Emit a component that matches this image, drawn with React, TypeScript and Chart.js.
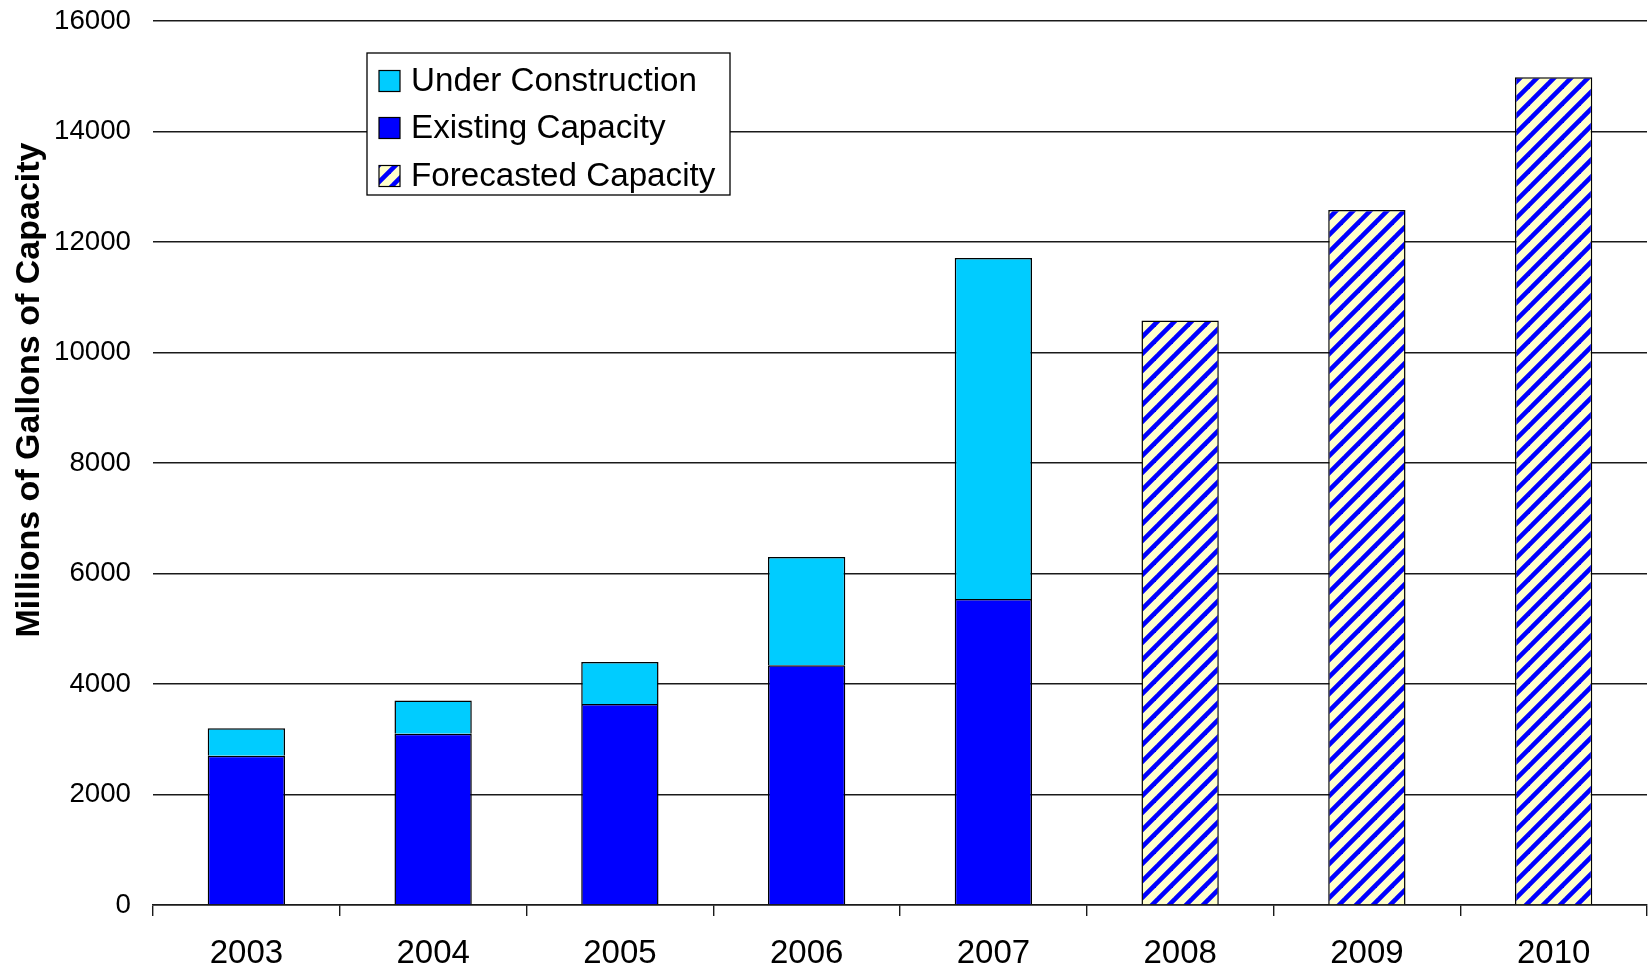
import React, { useEffect, useRef } from "react";
import { Chart, registerables } from "chart.js";

Chart.register(...registerables);

// Ethanol production capacity by year (millions of gallons)
const years = ["2003", "2004", "2005", "2006", "2007", "2008", "2009", "2010"];
const existingCapacity = [2700, 3100, 3640, 4340, 5540, null, null, null];
const underConstruction = [500, 600, 760, 1960, 6170, null, null, null];
const forecastedCapacity = [null, null, null, null, null, 10580, 12580, 14980];
const yTicks = [0, 2000, 4000, 6000, 8000, 10000, 12000, 14000, 16000];
const yAxisTitle = "Millions of Gallons of Capacity";
const seriesNames = ["Existing Capacity", "Under Construction", "Forecasted Capacity"];
// legend lists the series top-down as: Under Construction, Existing, Forecasted
const legendOrder = [1, 0, 2];

const FONT = "'Liberation Sans', Arial, Helvetica, sans-serif";

function makeStripePattern(): CanvasPattern | string {
  const size = 17;
  const tile = document.createElement("canvas");
  tile.width = size;
  tile.height = size;
  const g = tile.getContext("2d");
  if (!g) return "#FFFFCC";
  g.fillStyle = "#FFFFCC";
  g.fillRect(0, 0, size, size);
  g.strokeStyle = "#0000FF";
  g.lineWidth = 4.6;
  for (const c of [0, size, 2 * size]) {
    g.beginPath();
    g.moveTo(c + 3, -3);
    g.lineTo(c - size - 3, size + 3);
    g.stroke();
  }
  const p = g.createPattern(tile, "repeat");
  return p || "#FFFFCC";
}

const overlayPlugin = {
  id: "overlay",
  afterDraw(chart: any) {
    const ctx: CanvasRenderingContext2D = chart.ctx;
    ctx.save();

    // rotated axis title
    ctx.translate(39, 390);
    ctx.rotate(-Math.PI / 2);
    ctx.font = `bold 34px ${FONT}`;
    ctx.fillStyle = "#000";
    ctx.textAlign = "center";
    ctx.textBaseline = "alphabetic";
    ctx.fillText(yAxisTitle, 0, 0);
    ctx.restore();

    // legend box
    ctx.save();
    const bx = 367, by = 53, bw = 363, bh = 142;
    ctx.fillStyle = "#fff";
    ctx.fillRect(bx, by, bw, bh);
    ctx.strokeStyle = "#000";
    ctx.lineWidth = 1.3;
    ctx.strokeRect(bx, by, bw, bh);
    const rows = [81, 128, 176];
    ctx.font = `33.2px ${FONT}`;
    ctx.textAlign = "left";
    ctx.textBaseline = "middle";
    legendOrder.forEach((di, i) => {
      const ds = chart.data.datasets[di];
      const cy = rows[i];
      ctx.fillStyle = ds.backgroundColor;
      ctx.fillRect(379, cy - 10.5, 21, 21);
      ctx.strokeStyle = "#000";
      ctx.lineWidth = 1.2;
      ctx.strokeRect(379, cy - 10.5, 21, 21);
      ctx.fillStyle = "#000";
      ctx.fillText(ds.label, 411, cy + 1);
    });
    ctx.restore();
  },
};

export default function App() {
  const canvasRef = useRef<HTMLCanvasElement | null>(null);

  useEffect(() => {
    const canvas = canvasRef.current;
    if (!canvas) return;
    const stripes = makeStripePattern();
    const chart = new Chart(canvas, {
      type: "bar",
      data: {
        labels: years,
        datasets: [
          {
            label: seriesNames[0],
            data: existingCapacity,
            backgroundColor: "#0000FF",
            borderColor: "#000",
            borderWidth: 1.5,
          },
          {
            label: seriesNames[1],
            data: underConstruction,
            backgroundColor: "#00CCFF",
            borderColor: "#000",
            borderWidth: 1.5,
          },
          {
            label: seriesNames[2],
            data: forecastedCapacity,
            backgroundColor: stripes as any,
            borderColor: "#000",
            borderWidth: 1.5,
          },
        ],
      },
      options: {
        responsive: false,
        animation: false,
        layout: { padding: { top: 21, right: 4, left: 0, bottom: 0 } },
        datasets: {
          bar: { barPercentage: 0.414, categoryPercentage: 1 },
        },
        plugins: {
          legend: { display: false },
          tooltip: { enabled: false },
          title: { display: false },
        },
        scales: {
          x: {
            stacked: true,
            grid: {
              display: true,
              drawOnChartArea: false,
              drawTicks: true,
              tickLength: 11,
              offset: true,
              color: "#1a1a1a",
              lineWidth: 1.4,
            },
            border: { display: true, color: "#1a1a1a", width: 1.4 },
            ticks: {
              color: "#000",
              font: { family: FONT, size: 33 },
              padding: 18,
              maxRotation: 0,
            },
            afterFit(scale: any) {
              scale.height = 65;
            },
          },
          y: {
            stacked: true,
            min: 0,
            max: 16000,
            grid: {
              color: "#1a1a1a",
              lineWidth: 1.4,
              drawTicks: false,
            },
            border: { display: false },
            ticks: {
              color: "#000",
              font: { family: FONT, size: 27.7 },
              padding: 22,
              callback: (v: any) => String(v),
            },
            afterBuildTicks(scale: any) {
              scale.ticks = yTicks.map((v) => ({ value: v }));
            },
            afterFit(scale: any) {
              scale.width = 153;
              scale.paddingTop = 0;
              scale.paddingBottom = 0;
            },
          },
        },
      },
      plugins: [overlayPlugin],
    });
    return () => chart.destroy();
  }, []);

  return (
    <div style={{ position: "absolute", left: 0, top: 0, width: 1651, height: 970, background: "#fff" }}>
      <canvas ref={canvasRef} width={1651} height={970} />
    </div>
  );
}
